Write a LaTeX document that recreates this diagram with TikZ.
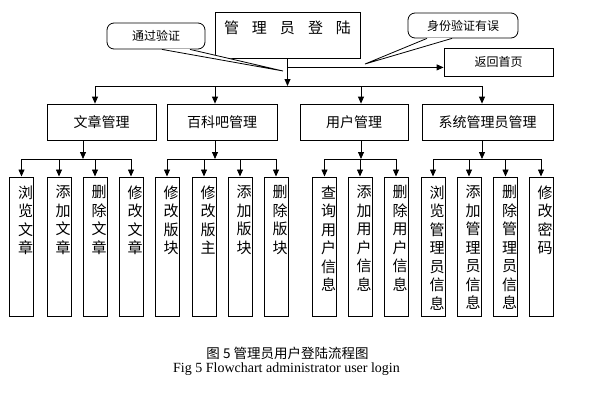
\documentclass[tikz,border=0pt]{standalone}
\usepackage{fontspec}
\setmainfont{Liberation Serif}
\newfontfamily\cjk{Noto Sans CJK SC}
\usetikzlibrary{arrows.meta}

\tikzset{
  box/.style={draw, font=\cjk\fontsize{14}{16}\selectfont, inner sep=0pt},
  leaf/.style={draw, anchor=north, minimum width=24pt, minimum height=139pt, inner sep=0pt},
  leaftext/.style={anchor=north, font=\cjk\fontsize{15}{18.5}\selectfont, align=center, inner sep=0pt},
  note/.style={draw, rounded corners=7pt, font=\cjk\fontsize{12}{14}\selectfont, inner sep=0pt},
  link/.style={-{Triangle[length=7pt,width=6pt]}},
}

\begin{document}
\begin{tikzpicture}[x=1pt, y=-1pt, line width=0.8pt]
    \useasboundingbox (0,0) rectangle (597,407);

    % login box and the two notes
    \node[box, minimum width=145pt, minimum height=46pt] (login) at (287.5,35) {};
    \node[font=\cjk\fontsize{15}{17}\selectfont, inner sep=0pt] (logintext) at (287.5,28)
        {管\hspace{13pt}理\hspace{13pt}员\hspace{13pt}登\hspace{13pt}陆};
    \node[note, minimum width=98pt, minimum height=26pt] (pass) at (156,36) {通过验证};
    \node[note, minimum width=110pt, minimum height=25pt] (fail) at (463,25.5) {身份验证有误};
    \node[box, font=\cjk\fontsize{12}{14}\selectfont, minimum width=109pt, minimum height=28pt] (home) at (498.5,62) {返回首页};

    \node[box, minimum width=109pt, minimum height=36pt] (art) at (101.5,122) {文章管理};
    \node[box, minimum width=110pt, minimum height=36pt] (bar) at (222,122) {百科吧管理};
    \node[box, minimum width=108pt, minimum height=36pt] (user) at (354,122) {用户管理};
    \node[box, minimum width=131pt, minimum height=36pt] (sys) at (487.5,122) {系统管理员管理};

    % connectors from the login box
    \coordinate (bus) at (287.5,86);
    \coordinate (split) at ([yshift=-9pt]login.south);
    \draw[link] (login.south) -- (bus);
    \draw[link] (split) -- (split -| home.west);

    \coordinate (artin) at ([xshift=-6.5pt]art.north);
    \coordinate (barin) at ([xshift=-7pt]bar.north);
    \coordinate (userin) at ([xshift=7pt]user.north);
    \coordinate (sysin) at ([xshift=-5.5pt]sys.north);
    \draw (artin |- bus) -- (sysin |- bus);
    \foreach \n in {artin, barin, userin, sysin}
        \draw[link] (\n |- bus) -- (\n);

    % note pointers
    \coordinate (passtip) at (283,71);
    \coordinate (failtip) at (365,64);
    \fill[white] ([xshift=6pt,yshift=0.6pt]pass.south) -- (passtip) -- ([xshift=34pt,yshift=0.6pt]pass.south) -- cycle;
    \draw ([xshift=6pt]pass.south) -- (passtip) -- ([xshift=34pt]pass.south);
    \fill[white] ([xshift=-36pt,yshift=0.6pt]fail.south) -- (failtip) -- ([xshift=-11pt,yshift=0.6pt]fail.south) -- cycle;
    \draw ([xshift=-36pt]fail.south) -- (failtip) -- ([xshift=-11pt]fail.south);

    % forks under the second row
    \coordinate (artfork) at (83,159);
    \coordinate (barfork) at (215,159);
    \coordinate (userfork) at (361,159);
    \coordinate (sysfork) at (482,159);
    \foreach \f/\b in {artfork/art, barfork/bar, userfork/user, sysfork/sys}
        \draw[link] (\f |- \b.south) -- (\f);

    % leaves
    \foreach \x/\n/\f/\t in {
        21.5/a1/artfork/{浏\\览\\文\\章}, 59/a2/artfork/{添\\加\\文\\章},
        95/a3/artfork/{删\\除\\文\\章}, 131/a4/artfork/{修\\改\\文\\章},
        167/b1/barfork/{修\\改\\版\\块}, 204/b2/barfork/{修\\改\\版\\主},
        240/b3/barfork/{添\\加\\版\\块}, 276/b4/barfork/{删\\除\\版\\块},
        324.5/u1/userfork/{查\\询\\用\\户\\信\\息}, 360/u2/userfork/{添\\加\\用\\户\\信\\息},
        396/u3/userfork/{删\\除\\用\\户\\信\\息},
        433/s1/sysfork/{浏\\览\\管\\理\\员\\信\\息}, 469/s2/sysfork/{添\\加\\管\\理\\员\\信\\息},
        505.5/s3/sysfork/{删\\除\\管\\理\\员\\信\\息}, 541/s4/sysfork/{修\\改\\密\\码}}
    {
        \node[leaf] (\n) at (\x,176.5) {};
        \node[leaftext] (\n t) at ([xshift=4pt,yshift=-8.5pt]\n.north) {\t};
        \draw[link] (\n.north |- \f) -- (\n.north);
    }
    \draw (a1.north |- artfork) -- (a4.north |- artfork);
    \draw (b1.north |- barfork) -- (b4.north |- barfork);
    \draw (u1.north |- userfork) -- (u3.north |- userfork);
    \draw (s1.north |- sysfork) -- (s4.north |- sysfork);

    % caption
    \node[font=\cjk\fontsize{13.5}{15}\selectfont] (capcn) at (287.5,353) {图 5 管理员用户登陆流程图};
    \node[font=\fontsize{14}{16}\selectfont] (capen) at (286.5,369) {Fig 5 Flowchart administrator user login};
\end{tikzpicture}
\end{document}
